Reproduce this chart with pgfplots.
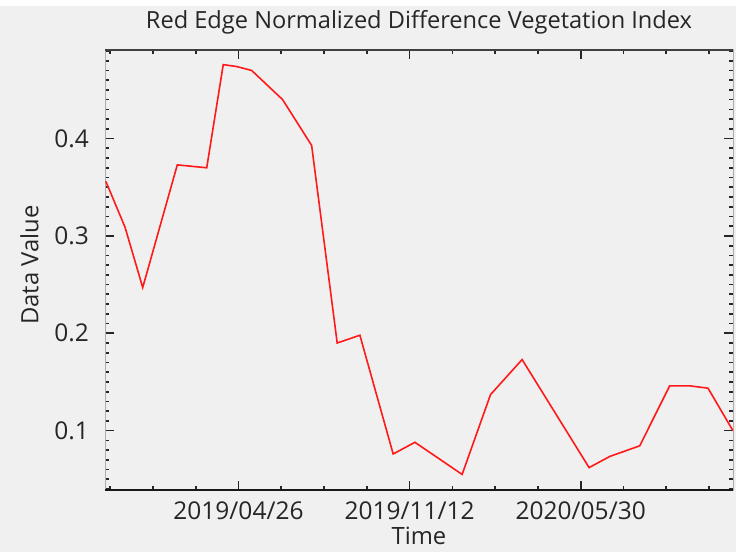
\documentclass[border=0pt]{standalone}
\usepackage{fontspec}
\setmainfont{Open Sans}
\usepackage{pgfplots}
\pgfplotsset{compat=1.18}
\definecolor{bg}{HTML}{F0F0F0}
\definecolor{txt}{HTML}{262626}
\definecolor{lnred}{HTML}{FF1A1A}
\begin{document}
\begin{tikzpicture}[x=1pt,y=1pt]
\fill[bg] (0,0) rectangle (736,552);
\fill[white] (0,546) rectangle (736,552);
\begin{axis}[
  at={(105pt,62pt)}, anchor=south west,
  scale only axis, width=628pt, height=440pt,
  xmin=-156, xmax=578, ymin=0.039, ymax=0.491,
  xtick={0,200,400}, xticklabels={2019/04/26,2019/11/12,2020/05/30},
  minor xtick={-150,-100,-50,50,100,150,250,300,350,450,500,550},
  ytick={0.1,0.2,0.3,0.4}, yticklabels={0.1,0.2,0.3,0.4},
  minor ytick={0.04,0.05,0.06,0.07,0.08,0.09,0.11,0.12,0.13,0.14,0.15,0.16,0.17,0.18,0.19,0.21,0.22,0.23,0.24,0.25,0.26,0.27,0.28,0.29,0.31,0.32,0.33,0.34,0.35,0.36,0.37,0.38,0.39,0.41,0.42,0.43,0.44,0.45,0.46,0.47,0.48,0.49},
  tick align=inside,
  major tick length=9pt, minor tick length=4pt,
  every tick/.style={draw=black!85, line width=1.7pt},
  axis line style={draw=gray!65, line width=1pt},
  tick label style={font=\fontsize{24.5}{28}\selectfont, text=txt},
  xticklabel style={anchor=base, yshift=-29pt},
  yticklabel style={anchor=east, inner sep=0pt, xshift=-16pt},
  title={Red Edge Normalized Difference Vegetation Index},
  title style={font=\fontsize{23.6}{27}\selectfont, text=txt, at={(axis description cs:0.5,1)}, anchor=base, yshift=15pt},
  xlabel={Time},
  xlabel style={font=\fontsize{23.8}{27}\selectfont, text=txt, at={(axis description cs:0.5,0)}, anchor=base, yshift=-54pt},
  ylabel={Data Value},
  ylabel style={font=\fontsize{23.8}{27}\selectfont, text=txt, at={(axis description cs:-0.1202,0.511)}, anchor=center},
  axis background/.style={fill=bg},
]
\addplot[lnred, line width=1.6pt] coordinates {
(-155,0.356) (-132.6,0.309) (-111.9,0.247) (-71.5,0.373) (-37.1,0.370)
(-17.8,0.476) (-2.1,0.474) (15.4,0.470) (51.6,0.440) (85.5,0.393)
(115.4,0.190) (141.9,0.198) (180.8,0.076) (206.2,0.088) (261.4,0.055)
(294.6,0.137) (331.5,0.173) (409.8,0.062) (434,0.0735) (469,0.0844)
(504,0.146) (527.5,0.146) (548.8,0.1436) (578,0.0998)
};
\draw[black!90, line width=2pt] (rel axis cs:0,0) -- (rel axis cs:1,0);
\draw[black!75, line width=1.5pt] (rel axis cs:0,1) -- (rel axis cs:1,1);
\end{axis}
\pgfresetboundingbox
\useasboundingbox (0,0) rectangle (736,552);
\end{tikzpicture}
\end{document}
